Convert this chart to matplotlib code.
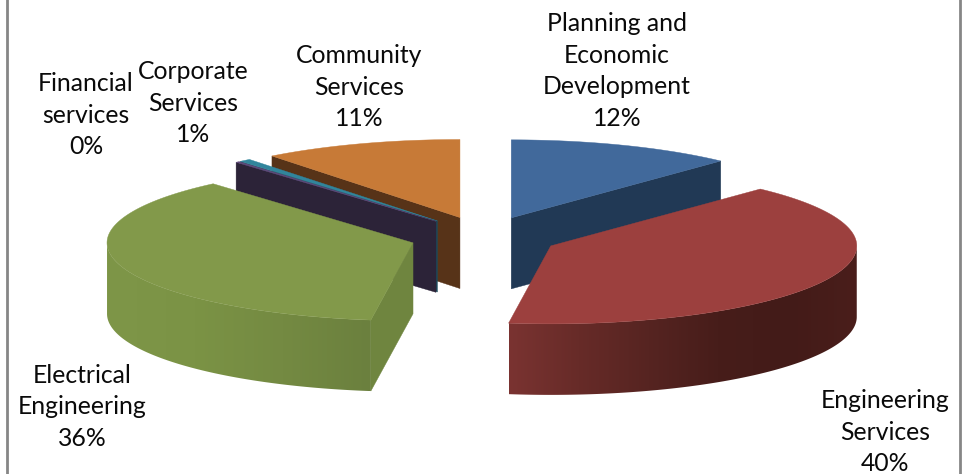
import numpy as np
import matplotlib
matplotlib.use("Agg")
import matplotlib.pyplot as plt
from matplotlib.colors import to_rgb, LinearSegmentedColormap
from matplotlib.patches import Polygon

categories = ["Planning and\nEconomic\nDevelopment", "Engineering\nServices", "Electrical\nEngineering",
              "Financial\nservices", "Corporate\nServices", "Community\nServices"]
shares = [12.0, 40.2, 36.47, 0.2, 0.6, 10.53]
percent_labels = ["12%", "40%", "36%", "0%", "1%", "11%"]

top_colors = ["#41699B", "#9C403E", "#82994A", "#604A7B", "#31859C", "#C77A37"]
wall_colors = ["#213955", "#431B18", "#6F853F", "#2C2338", "#1C4A5C", "#573318"]
# rim shading, listed from the left end of the visible rim to its right end
rim_stops = [
    ["#213955", "#213955"],
    ["#7A3331", "#672B28", "#562421", "#471D1A", "#431B18", "#4A1E1B"],
    ["#7E9648", "#7B9345", "#748A42", "#6B803E"],
    ["#2C2338", "#2C2338"],
    ["#1C4A5C", "#1C4A5C"],
    ["#573318", "#573318"],
]
label_pos = [(617, 71), (885, 432), (82, 407), (86, 115), (193, 103), (359, 87)]

CX, CY, RX, RY, DEPTH, EX, EY = 484, 237, 306, 78, 71, 74, 20.6
W, H = 971, 474

fig = plt.figure(figsize=(W / 100, H / 100), dpi=100)
ax = fig.add_axes([0, 0, 1, 1])


def rim(apex, deg):
    a = np.radians(deg)
    return np.column_stack([apex[0] + RX * np.sin(a), apex[1] - RY * np.cos(a)])


def poly(pts, color, z):
    patch = Polygon(pts, closed=True, facecolor=color, edgecolor=color, linewidth=0.3, zorder=z)
    ax.add_patch(patch)
    return patch


edges = np.concatenate([[0], np.cumsum(shares)]) / sum(shares) * 360
order = [0, 5, 4, 3, 2, 1]
for z, i in enumerate(order):
    a0, a1 = edges[i], edges[i + 1]
    mid = np.radians((a0 + a1) / 2)
    apex = (CX + EX * np.sin(mid), CY - EY * np.cos(mid))
    base = 10 * (z + 1)
    # radial side walls
    for ang, visible in ((a0, 180 < a0 < 360), (a1, 0 < a1 < 180)):
        if visible:
            p = rim(apex, np.array([ang]))[0]
            poly([apex, p, (p[0], p[1] + DEPTH), (apex[0], apex[1] + DEPTH)], wall_colors[i], base)
    # outer curved rim: a horizontal gradient clipped to the rim outline
    lo, hi = max(a0, 90), min(a1, 270)
    if hi > lo:
        arc = rim(apex, np.linspace(lo, hi, 200))
        outline = np.vstack([arc, arc[::-1] + (0, DEPTH)])
        clip = Polygon(outline, closed=True, transform=ax.transData, facecolor="none", edgecolor="none")
        ax.add_patch(clip)
        cmap = LinearSegmentedColormap.from_list(f"rim{i}", [to_rgb(c) for c in rim_stops[i]])
        grad = np.linspace(0, 1, 256)[None, :]
        im = ax.imshow(grad, cmap=cmap, aspect="auto", zorder=base + 1, interpolation="bilinear",
                       extent=(outline[:, 0].min(), outline[:, 0].max(), outline[:, 1].max(), outline[:, 1].min()))
        im.set_clip_path(clip)
    # top face
    arc = rim(apex, np.linspace(a0, a1, max(3, int(a1 - a0) * 2)))
    poly(np.vstack([[apex], arc]), top_colors[i], base + 2)

ax.set_xlim(0, W)
ax.set_ylim(H, 0)
ax.axis("off")

for name, pct, (x, y) in zip(categories, percent_labels, label_pos):
    ax.text(x, y, f"{name}\n{pct}", ha="center", va="center", fontsize=17.8, family="Lato",
            color="#0A0A0A", linespacing=1.47, zorder=200)

for xb in (7, 960):
    ax.axvline(xb, color="#868686", linewidth=2, zorder=300)

fig.savefig("out.png", dpi=100, facecolor="white")
